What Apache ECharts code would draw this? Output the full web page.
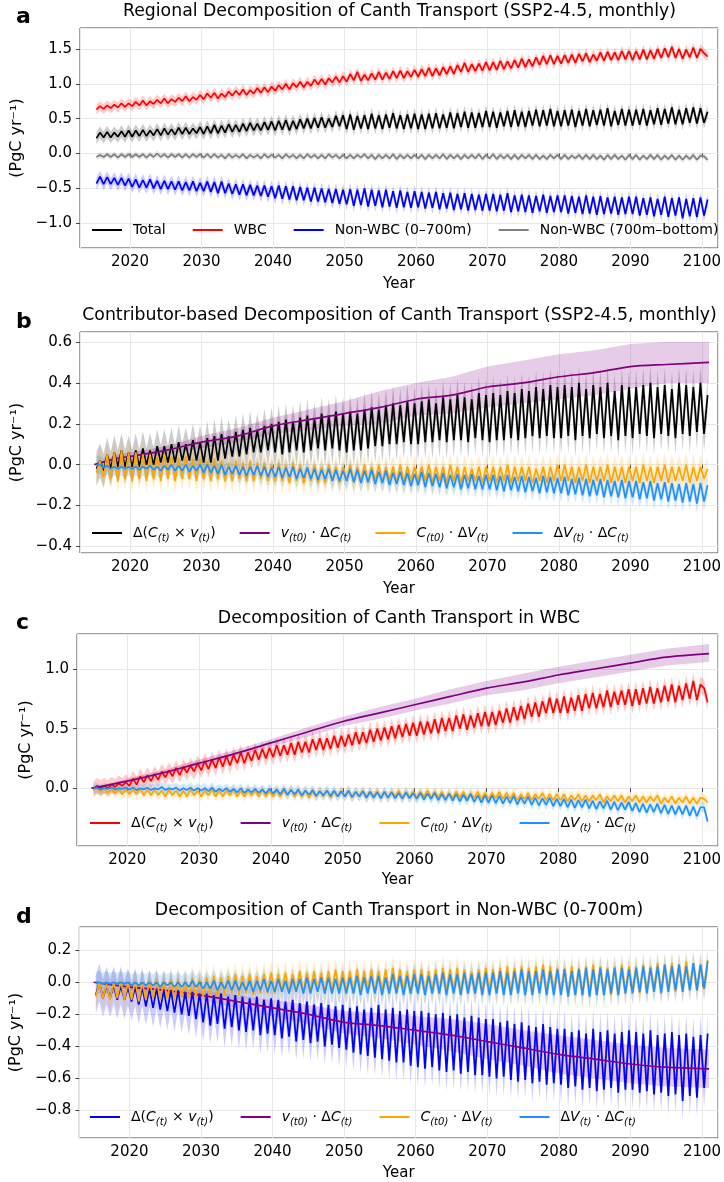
<!DOCTYPE html>
<html>
<head>
<meta charset="utf-8">
<script src="https://cdn.jsdelivr.net/npm/echarts@6/dist/echarts.min.js"></script>
<style>
  html, body { margin: 0; padding: 0; background: #fff; }
  #main { width: 724px; height: 1182px; }
</style>
</head>
<body>
<div id="main"></div>
<script>
// two readings per year (seasonal low, seasonal high), 2015 .. 2100
// panel a
var totalLo = [0.22,0.23,0.23,0.24,0.24,
  0.24,0.25,0.25,0.26,0.26,0.27,0.27,0.28,0.28,0.29,
  0.28,0.29,0.29,0.30,0.31,0.31,0.32,0.33,0.33,0.34,
  0.33,0.34,0.33,0.35,0.36,0.36,0.37,0.37,0.38,0.39,
  0.35,0.34,0.36,0.35,0.36,0.35,0.37,0.36,0.35,0.36,
  0.35,0.35,0.36,0.36,0.37,0.36,0.38,0.37,0.37,0.38,
  0.38,0.37,0.39,0.38,0.39,0.38,0.40,0.39,0.40,0.39,
  0.39,0.40,0.38,0.40,0.39,0.41,0.40,0.39,0.41,0.40,
  0.40,0.41,0.40,0.42,0.41,0.43,0.42,0.42,0.44,0.43,
  0.44];
var totalHi = [0.30,0.31,0.30,0.32,0.33,
  0.33,0.34,0.33,0.35,0.36,0.35,0.37,0.37,0.36,0.38,
  0.39,0.41,0.40,0.42,0.41,0.43,0.44,0.43,0.45,0.46,
  0.47,0.48,0.47,0.49,0.50,0.51,0.52,0.50,0.54,0.55,
  0.56,0.54,0.55,0.57,0.55,0.56,0.58,0.55,0.56,0.57,
  0.56,0.57,0.58,0.56,0.59,0.58,0.60,0.59,0.58,0.61,
  0.60,0.59,0.61,0.62,0.60,0.61,0.63,0.62,0.64,0.61,
  0.62,0.63,0.61,0.64,0.62,0.63,0.65,0.61,0.64,0.63,
  0.63,0.64,0.62,0.65,0.64,0.66,0.63,0.65,0.66,0.65,
  0.60];
var wbcLo = [0.63,0.64,0.65,0.66,0.67,
  0.68,0.69,0.69,0.71,0.72,0.72,0.74,0.75,0.75,0.77,
  0.78,0.80,0.79,0.81,0.83,0.84,0.84,0.86,0.87,0.88,
  0.90,0.92,0.92,0.95,0.95,0.97,0.99,0.99,1.02,1.02,
  1.03,1.05,1.04,1.05,1.06,1.06,1.07,1.08,1.08,1.10,
  1.10,1.11,1.11,1.12,1.14,1.14,1.17,1.17,1.18,1.19,
  1.19,1.20,1.21,1.22,1.23,1.24,1.25,1.27,1.28,1.28,
  1.29,1.30,1.30,1.32,1.31,1.33,1.33,1.34,1.34,1.35,
  1.34,1.35,1.35,1.36,1.37,1.38,1.37,1.36,1.38,1.37,
  1.44];
var wbcHi = [0.68,0.69,0.70,0.72,0.72,
  0.74,0.76,0.75,0.77,0.79,0.78,0.80,0.82,0.81,0.84,
  0.86,0.87,0.86,0.89,0.90,0.92,0.91,0.94,0.95,0.96,
  0.98,1.00,1.01,1.03,1.03,1.06,1.07,1.08,1.10,1.11,
  1.14,1.17,1.13,1.15,1.17,1.16,1.18,1.19,1.18,1.20,
  1.21,1.23,1.22,1.24,1.25,1.27,1.30,1.28,1.29,1.31,
  1.31,1.33,1.32,1.34,1.36,1.35,1.38,1.40,1.41,1.40,
  1.41,1.42,1.43,1.44,1.42,1.45,1.46,1.45,1.47,1.47,
  1.47,1.49,1.48,1.50,1.51,1.53,1.50,1.49,1.52,1.50,
  1.39];
var upperLo = [-0.43,-0.44,-0.44,-0.45,-0.46,
  -0.48,-0.49,-0.49,-0.50,-0.51,-0.51,-0.52,-0.53,-0.53,-0.54,
  -0.54,-0.55,-0.57,-0.57,-0.58,-0.59,-0.60,-0.60,-0.61,-0.62,
  -0.64,-0.65,-0.66,-0.67,-0.67,-0.69,-0.69,-0.70,-0.71,-0.72,
  -0.73,-0.75,-0.74,-0.76,-0.75,-0.77,-0.76,-0.78,-0.77,-0.78,
  -0.77,-0.79,-0.78,-0.80,-0.79,-0.81,-0.80,-0.82,-0.81,-0.82,
  -0.82,-0.83,-0.82,-0.84,-0.83,-0.84,-0.85,-0.83,-0.85,-0.84,
  -0.84,-0.86,-0.85,-0.87,-0.86,-0.88,-0.87,-0.86,-0.88,-0.87,
  -0.87,-0.89,-0.88,-0.90,-0.88,-0.91,-0.89,-0.93,-0.90,-0.91,
  -0.89];
var upperHi = [-0.33,-0.34,-0.35,-0.35,-0.36,
  -0.37,-0.38,-0.37,-0.39,-0.39,-0.40,-0.40,-0.41,-0.40,-0.42,
  -0.40,-0.41,-0.40,-0.43,-0.44,-0.44,-0.45,-0.46,-0.46,-0.47,
  -0.46,-0.47,-0.47,-0.48,-0.49,-0.49,-0.50,-0.51,-0.51,-0.52,
  -0.51,-0.52,-0.50,-0.52,-0.53,-0.52,-0.54,-0.53,-0.55,-0.54,
  -0.55,-0.56,-0.55,-0.57,-0.56,-0.58,-0.57,-0.58,-0.59,-0.58,
  -0.58,-0.59,-0.57,-0.60,-0.59,-0.60,-0.61,-0.59,-0.61,-0.60,
  -0.60,-0.61,-0.62,-0.60,-0.62,-0.61,-0.63,-0.62,-0.63,-0.62,
  -0.62,-0.64,-0.63,-0.65,-0.62,-0.64,-0.63,-0.65,-0.64,-0.63,
  -0.66];
var deepLo = [-0.05,-0.05,-0.05,-0.06,-0.05,
  -0.05,-0.05,-0.06,-0.05,-0.05,-0.06,-0.05,-0.06,-0.06,-0.05,
  -0.06,-0.06,-0.06,-0.07,-0.06,-0.06,-0.07,-0.06,-0.07,-0.06,
  -0.06,-0.07,-0.06,-0.07,-0.07,-0.06,-0.07,-0.07,-0.06,-0.07,
  -0.07,-0.07,-0.06,-0.07,-0.08,-0.07,-0.07,-0.08,-0.07,-0.07,
  -0.07,-0.08,-0.07,-0.07,-0.08,-0.07,-0.08,-0.07,-0.07,-0.08,
  -0.07,-0.08,-0.07,-0.08,-0.08,-0.07,-0.08,-0.08,-0.08,-0.07,
  -0.08,-0.08,-0.07,-0.08,-0.08,-0.08,-0.09,-0.08,-0.08,-0.09,
  -0.08,-0.09,-0.08,-0.08,-0.09,-0.08,-0.09,-0.09,-0.08,-0.09,
  -0.04];
var deepHi = [-0.02,-0.01,-0.01,-0.01,-0.01,
  -0.01,-0.01,-0.01,0.00,-0.01,-0.01,-0.01,-0.01,-0.01,-0.01,
  -0.01,-0.01,-0.02,-0.01,-0.02,-0.01,-0.02,-0.02,-0.01,-0.02,
  -0.02,-0.01,-0.02,-0.02,-0.01,-0.02,-0.02,-0.01,-0.02,-0.02,
  -0.02,-0.02,-0.01,-0.02,-0.02,-0.02,-0.01,-0.02,-0.02,-0.02,
  -0.02,-0.02,-0.02,-0.01,-0.02,-0.02,-0.02,-0.02,-0.01,-0.02,
  -0.01,-0.02,-0.02,-0.02,-0.02,-0.02,-0.02,-0.03,-0.02,-0.02,
  -0.02,-0.03,-0.02,-0.02,-0.02,-0.03,-0.02,-0.02,-0.03,-0.02,
  -0.02,-0.03,-0.02,-0.02,-0.03,-0.02,-0.03,-0.03,-0.02,-0.03,
  -0.09];

// panel b
var bDeltaLo = [-0.02,-0.03,-0.02,-0.01,-0.01,
  -0.01,-0.01,0.00,0.00,0.01,0.01,0.01,0.02,0.02,0.02,
  0.01,0.01,0.02,0.03,0.04,0.04,0.05,0.06,0.06,0.07,
  0.06,0.05,0.06,0.07,0.06,0.07,0.08,0.07,0.08,0.07,
  0.06,0.07,0.07,0.08,0.09,0.09,0.10,0.10,0.11,0.10,
  0.10,0.11,0.11,0.12,0.11,0.12,0.12,0.11,0.13,0.12,
  0.11,0.12,0.12,0.13,0.12,0.13,0.14,0.13,0.14,0.13,
  0.13,0.14,0.12,0.14,0.13,0.15,0.13,0.14,0.12,0.14,
  0.13,0.15,0.14,0.13,0.15,0.14,0.13,0.15,0.14,0.16,
  0.15];
var bDeltaHi = [0.02,0.05,0.06,0.07,0.06,
  0.07,0.08,0.07,0.09,0.09,0.10,0.11,0.10,0.12,0.11,
  0.13,0.14,0.15,0.14,0.16,0.17,0.18,0.17,0.19,0.20,
  0.21,0.22,0.21,0.23,0.24,0.22,0.25,0.24,0.26,0.25,
  0.26,0.25,0.27,0.28,0.27,0.29,0.30,0.29,0.31,0.30,
  0.31,0.32,0.30,0.33,0.32,0.34,0.33,0.32,0.35,0.34,
  0.35,0.34,0.36,0.35,0.37,0.36,0.38,0.37,0.39,0.38,
  0.39,0.38,0.40,0.37,0.39,0.38,0.40,0.36,0.39,0.38,
  0.38,0.39,0.40,0.38,0.39,0.37,0.40,0.39,0.38,0.40,
  0.34];
var bCvLo = [-0.04,-0.06,-0.07,-0.08,-0.07,
  -0.08,-0.07,-0.08,-0.07,-0.08,-0.07,-0.08,-0.07,-0.07,-0.08,
  -0.07,-0.08,-0.07,-0.08,-0.08,-0.07,-0.08,-0.08,-0.07,-0.08,
  -0.08,-0.08,-0.09,-0.08,-0.09,-0.08,-0.09,-0.09,-0.08,-0.09,
  -0.08,-0.09,-0.08,-0.09,-0.08,-0.09,-0.08,-0.09,-0.09,-0.08,
  -0.08,-0.08,-0.09,-0.08,-0.09,-0.08,-0.09,-0.08,-0.08,-0.09,
  -0.08,-0.09,-0.08,-0.09,-0.08,-0.08,-0.09,-0.08,-0.09,-0.08,
  -0.08,-0.08,-0.09,-0.08,-0.09,-0.08,-0.08,-0.09,-0.08,-0.09,
  -0.08,-0.09,-0.08,-0.09,-0.08,-0.09,-0.08,-0.08,-0.09,-0.08,
  -0.07];
var bCvHi = [0.02,0.05,0.06,0.07,0.06,
  0.06,0.05,0.05,0.04,0.05,0.04,0.03,0.04,0.03,0.03,
  0.02,0.03,0.02,0.01,0.02,0.01,0.02,0.01,0.01,0.00,
  0.01,0.00,0.01,0.00,-0.01,0.00,-0.01,0.00,-0.01,-0.01,
  0.00,-0.01,0.00,-0.01,0.00,-0.01,-0.01,0.00,-0.01,-0.01,
  -0.01,0.00,-0.01,-0.01,0.00,-0.01,-0.01,-0.02,-0.01,-0.01,
  -0.01,-0.01,0.00,-0.01,-0.01,-0.01,-0.02,-0.01,-0.01,0.00,
  0.00,-0.01,-0.01,0.00,-0.01,-0.01,0.00,-0.01,-0.01,-0.01,
  -0.01,0.00,-0.01,-0.01,0.00,-0.01,-0.01,0.00,-0.01,-0.01,
  -0.02];
var bVcLo = [0.00,-0.015,-0.02,-0.02,-0.02,
  -0.02,-0.025,-0.02,-0.025,-0.03,-0.025,-0.03,-0.03,-0.035,-0.03,
  -0.04,-0.04,-0.045,-0.05,-0.045,-0.05,-0.055,-0.05,-0.055,-0.06,
  -0.06,-0.065,-0.06,-0.07,-0.065,-0.07,-0.075,-0.07,-0.08,-0.08,
  -0.08,-0.085,-0.09,-0.085,-0.095,-0.09,-0.10,-0.095,-0.10,-0.105,
  -0.10,-0.11,-0.105,-0.11,-0.115,-0.11,-0.12,-0.115,-0.12,-0.12,
  -0.12,-0.125,-0.13,-0.125,-0.13,-0.135,-0.13,-0.14,-0.135,-0.14,
  -0.14,-0.15,-0.145,-0.15,-0.155,-0.15,-0.16,-0.155,-0.16,-0.165,
  -0.16,-0.17,-0.165,-0.175,-0.17,-0.18,-0.175,-0.185,-0.18,-0.19,
  -0.18];
var bVcHi = [0.00,-0.005,-0.01,-0.01,-0.01,
  -0.01,-0.01,-0.005,-0.01,-0.005,0.00,-0.005,0.00,-0.005,0.00,
  0.00,-0.005,0.00,-0.01,-0.005,-0.01,-0.01,-0.005,-0.01,-0.015,
  -0.01,-0.015,-0.01,-0.02,-0.015,-0.02,-0.025,-0.02,-0.025,-0.03,
  -0.02,-0.025,-0.03,-0.025,-0.035,-0.03,-0.04,-0.035,-0.04,-0.045,
  -0.035,-0.04,-0.045,-0.04,-0.05,-0.045,-0.05,-0.045,-0.055,-0.05,
  -0.05,-0.055,-0.05,-0.06,-0.055,-0.06,-0.065,-0.055,-0.06,-0.065,
  -0.06,-0.07,-0.065,-0.07,-0.075,-0.07,-0.075,-0.08,-0.075,-0.08,
  -0.08,-0.085,-0.08,-0.09,-0.085,-0.09,-0.095,-0.09,-0.095,-0.09,
  -0.10];
var bPurpleYears = [2015,2018,2020,2025,2030,2035,2040,2045,2050,2055,2060,2065,2070,2075,2080,2085,2090,2095,2101];
var bPurpleMid = [0.00,0.03,0.04,0.07,0.11,0.14,0.19,0.22,0.25,0.28,0.32,0.34,0.38,0.40,0.43,0.45,0.48,0.49,0.50];
var bPurpleUp  = [0.00,0.05,0.06,0.09,0.14,0.18,0.23,0.27,0.31,0.36,0.40,0.43,0.48,0.51,0.54,0.56,0.59,0.60,0.60];
var bPurpleDn  = [0.00,0.01,0.02,0.05,0.08,0.11,0.15,0.17,0.19,0.20,0.24,0.25,0.28,0.30,0.32,0.34,0.37,0.40,0.40];

// panel c
var cDeltaLo = [-0.01,0.00,0.00,0.01,0.02,
  0.02,0.03,0.05,0.06,0.07,0.09,0.10,0.11,0.13,0.14,
  0.15,0.16,0.17,0.18,0.19,0.21,0.21,0.23,0.24,0.25,
  0.26,0.27,0.28,0.28,0.30,0.30,0.32,0.32,0.33,0.34,
  0.35,0.36,0.37,0.38,0.39,0.40,0.41,0.42,0.43,0.44,
  0.44,0.45,0.46,0.46,0.48,0.48,0.50,0.49,0.51,0.52,
  0.52,0.53,0.55,0.55,0.57,0.58,0.60,0.60,0.63,0.63,
  0.63,0.63,0.65,0.65,0.67,0.67,0.68,0.68,0.70,0.70,
  0.69,0.70,0.71,0.71,0.72,0.73,0.72,0.74,0.75,0.74,
  0.84];
var cDeltaHi = [0.02,0.02,0.03,0.04,0.05,
  0.08,0.10,0.11,0.12,0.14,0.15,0.17,0.18,0.19,0.21,
  0.23,0.24,0.26,0.27,0.28,0.30,0.30,0.32,0.33,0.34,
  0.36,0.36,0.38,0.39,0.39,0.41,0.42,0.42,0.44,0.44,
  0.45,0.47,0.47,0.49,0.50,0.51,0.52,0.53,0.54,0.55,
  0.56,0.56,0.58,0.59,0.59,0.61,0.62,0.61,0.63,0.64,
  0.64,0.65,0.67,0.68,0.69,0.71,0.72,0.73,0.76,0.75,
  0.77,0.76,0.78,0.79,0.80,0.79,0.82,0.81,0.82,0.83,
  0.83,0.84,0.85,0.84,0.86,0.87,0.86,0.88,0.90,0.87,
  0.72];
var cCvLo = [-0.02,-0.03,-0.04,-0.04,-0.05,
  -0.05,-0.05,-0.06,-0.06,-0.06,-0.07,-0.06,-0.07,-0.07,-0.06,
  -0.07,-0.06,-0.07,-0.07,-0.06,-0.07,-0.07,-0.06,-0.07,-0.07,
  -0.07,-0.07,-0.06,-0.07,-0.07,-0.08,-0.07,-0.07,-0.08,-0.07,
  -0.07,-0.08,-0.07,-0.08,-0.07,-0.08,-0.08,-0.07,-0.08,-0.08,
  -0.08,-0.07,-0.08,-0.08,-0.09,-0.08,-0.08,-0.09,-0.08,-0.09,
  -0.09,-0.08,-0.09,-0.09,-0.10,-0.09,-0.10,-0.09,-0.10,-0.10,
  -0.10,-0.11,-0.10,-0.11,-0.11,-0.10,-0.12,-0.11,-0.11,-0.12,
  -0.11,-0.12,-0.12,-0.11,-0.13,-0.12,-0.13,-0.12,-0.13,-0.13,
  -0.09];
var cCvHi = [0.00,0.00,-0.01,-0.01,-0.01,
  -0.01,0.00,-0.01,-0.01,-0.02,-0.01,-0.02,-0.02,-0.01,-0.02,
  -0.02,-0.01,-0.02,-0.02,-0.01,-0.02,-0.02,-0.02,-0.01,-0.02,
  -0.02,-0.02,-0.01,-0.02,-0.02,-0.03,-0.02,-0.02,-0.03,-0.02,
  -0.02,-0.03,-0.02,-0.03,-0.02,-0.03,-0.03,-0.02,-0.03,-0.03,
  -0.03,-0.02,-0.03,-0.03,-0.04,-0.03,-0.03,-0.04,-0.03,-0.04,
  -0.04,-0.03,-0.04,-0.04,-0.05,-0.04,-0.05,-0.04,-0.05,-0.05,
  -0.05,-0.06,-0.05,-0.06,-0.06,-0.05,-0.07,-0.06,-0.06,-0.07,
  -0.06,-0.07,-0.07,-0.06,-0.08,-0.07,-0.08,-0.07,-0.08,-0.08,
  -0.12];
var cVcLo = [0.00,-0.01,-0.005,-0.01,-0.005,
  -0.01,-0.015,-0.01,-0.015,-0.01,-0.015,-0.01,-0.02,-0.015,-0.02,
  -0.02,-0.025,-0.03,-0.025,-0.03,-0.035,-0.04,-0.035,-0.04,-0.045,
  -0.045,-0.05,-0.055,-0.05,-0.06,-0.055,-0.065,-0.06,-0.065,-0.07,
  -0.07,-0.075,-0.07,-0.08,-0.08,-0.085,-0.08,-0.085,-0.09,-0.085,
  -0.09,-0.095,-0.09,-0.10,-0.10,-0.105,-0.11,-0.105,-0.115,-0.12,
  -0.12,-0.125,-0.13,-0.125,-0.135,-0.13,-0.14,-0.145,-0.14,-0.15,
  -0.15,-0.16,-0.165,-0.16,-0.17,-0.175,-0.17,-0.18,-0.185,-0.18,
  -0.19,-0.20,-0.205,-0.20,-0.21,-0.215,-0.22,-0.22,-0.23,-0.235,
  -0.16];
var cVcHi = [0.00,0.00,0.005,0.00,0.005,
  0.005,0.00,0.005,0.00,0.01,0.00,0.005,0.00,0.005,0.00,
  0.00,0.005,-0.005,0.00,-0.005,0.00,-0.01,-0.005,-0.01,-0.005,
  -0.01,-0.005,-0.015,-0.01,-0.02,-0.015,-0.025,-0.02,-0.02,-0.025,
  -0.02,-0.03,-0.025,-0.03,-0.035,-0.03,-0.035,-0.04,-0.035,-0.04,
  -0.04,-0.045,-0.04,-0.05,-0.045,-0.05,-0.055,-0.05,-0.06,-0.06,
  -0.06,-0.065,-0.07,-0.065,-0.075,-0.07,-0.08,-0.085,-0.08,-0.09,
  -0.09,-0.095,-0.10,-0.095,-0.105,-0.11,-0.105,-0.115,-0.12,-0.115,
  -0.125,-0.13,-0.135,-0.13,-0.14,-0.145,-0.15,-0.145,-0.155,-0.16,
  -0.28];
var cPurpleYears = [2015,2020,2025,2030,2035,2040,2045,2050,2055,2060,2065,2070,2075,2080,2085,2090,2095,2101];
var cPurpleMid = [0.00,0.06,0.13,0.21,0.29,0.38,0.47,0.56,0.63,0.70,0.77,0.84,0.89,0.95,1.00,1.05,1.10,1.13];
var cPurpleUp  = [0.00,0.08,0.15,0.24,0.32,0.41,0.51,0.60,0.68,0.75,0.83,0.90,0.96,1.02,1.07,1.12,1.17,1.21];
var cPurpleDn  = [0.00,0.04,0.11,0.18,0.26,0.35,0.43,0.52,0.58,0.65,0.71,0.78,0.82,0.88,0.93,0.98,1.03,1.06];

// panel d
var dDeltaLo = [-0.08,-0.10,-0.10,-0.11,-0.11,
  -0.12,-0.14,-0.15,-0.16,-0.17,-0.18,-0.19,-0.20,-0.21,-0.23,
  -0.25,-0.27,-0.26,-0.29,-0.28,-0.30,-0.31,-0.30,-0.33,-0.32,
  -0.33,-0.35,-0.34,-0.37,-0.36,-0.38,-0.37,-0.40,-0.39,-0.41,
  -0.42,-0.44,-0.45,-0.46,-0.47,-0.48,-0.49,-0.50,-0.50,-0.52,
  -0.53,-0.54,-0.53,-0.55,-0.56,-0.55,-0.57,-0.56,-0.58,-0.58,
  -0.59,-0.60,-0.59,-0.61,-0.62,-0.61,-0.63,-0.62,-0.64,-0.63,
  -0.64,-0.66,-0.65,-0.67,-0.66,-0.68,-0.67,-0.66,-0.69,-0.67,
  -0.67,-0.69,-0.68,-0.70,-0.69,-0.71,-0.70,-0.74,-0.71,-0.72,
  -0.66];
var dDeltaHi = [0.00,-0.02,-0.02,-0.02,-0.03,
  -0.03,-0.03,-0.04,-0.04,-0.05,-0.05,-0.05,-0.06,-0.06,-0.07,
  -0.07,-0.08,-0.07,-0.09,-0.08,-0.09,-0.10,-0.09,-0.11,-0.10,
  -0.11,-0.12,-0.11,-0.13,-0.12,-0.14,-0.13,-0.14,-0.15,-0.14,
  -0.16,-0.15,-0.17,-0.16,-0.14,-0.17,-0.16,-0.18,-0.17,-0.18,
  -0.18,-0.19,-0.20,-0.19,-0.21,-0.20,-0.22,-0.21,-0.22,-0.23,
  -0.23,-0.25,-0.24,-0.26,-0.25,-0.27,-0.28,-0.26,-0.28,-0.29,
  -0.29,-0.31,-0.30,-0.32,-0.29,-0.31,-0.30,-0.32,-0.31,-0.30,
  -0.31,-0.32,-0.30,-0.33,-0.32,-0.31,-0.33,-0.32,-0.34,-0.33,
  -0.32];
var dCvLo = [-0.09,-0.10,-0.11,-0.10,-0.11,
  -0.11,-0.12,-0.11,-0.10,-0.11,-0.10,-0.11,-0.09,-0.10,-0.09,
  -0.09,-0.08,-0.09,-0.08,-0.07,-0.08,-0.07,-0.08,-0.07,-0.07,
  -0.07,-0.06,-0.07,-0.06,-0.07,-0.06,-0.06,-0.07,-0.06,-0.06,
  -0.06,-0.07,-0.06,-0.06,-0.07,-0.06,-0.07,-0.06,-0.06,-0.07,
  -0.06,-0.07,-0.06,-0.07,-0.06,-0.06,-0.07,-0.06,-0.07,-0.06,
  -0.06,-0.07,-0.06,-0.07,-0.06,-0.07,-0.06,-0.06,-0.07,-0.06,
  -0.07,-0.08,-0.07,-0.08,-0.07,-0.08,-0.07,-0.08,-0.08,-0.07,
  -0.06,-0.07,-0.06,-0.05,-0.06,-0.05,-0.06,-0.05,-0.04,-0.05,
  -0.04];
var dCvHi = [0.00,-0.01,0.00,0.01,0.00,
  0.01,0.00,0.01,0.02,0.01,0.02,0.02,0.01,0.03,0.02,
  0.03,0.04,0.03,0.04,0.05,0.04,0.05,0.04,0.05,0.06,
  0.05,0.06,0.05,0.07,0.06,0.07,0.06,0.07,0.08,0.07,
  0.07,0.08,0.07,0.08,0.07,0.08,0.09,0.08,0.07,0.08,
  0.08,0.07,0.08,0.09,0.08,0.09,0.08,0.07,0.08,0.09,
  0.08,0.09,0.10,0.09,0.10,0.09,0.10,0.11,0.10,0.09,
  0.09,0.10,0.09,0.10,0.11,0.10,0.09,0.10,0.11,0.10,
  0.10,0.11,0.10,0.12,0.11,0.12,0.11,0.13,0.12,0.11,
  0.14];
var dVcLo = [0.00,-0.01,-0.01,-0.01,-0.01,
  -0.02,-0.02,-0.02,-0.02,-0.03,-0.02,-0.03,-0.03,-0.03,-0.03,
  -0.04,-0.04,-0.05,-0.04,-0.05,-0.05,-0.05,-0.06,-0.05,-0.06,
  -0.06,-0.06,-0.07,-0.06,-0.07,-0.07,-0.06,-0.07,-0.07,-0.07,
  -0.07,-0.07,-0.08,-0.07,-0.07,-0.08,-0.07,-0.07,-0.08,-0.07,
  -0.07,-0.08,-0.07,-0.07,-0.08,-0.07,-0.08,-0.07,-0.07,-0.08,
  -0.08,-0.07,-0.08,-0.08,-0.07,-0.08,-0.08,-0.07,-0.08,-0.08,
  -0.08,-0.09,-0.08,-0.08,-0.09,-0.08,-0.08,-0.07,-0.08,-0.07,
  -0.07,-0.06,-0.07,-0.06,-0.07,-0.06,-0.05,-0.06,-0.05,-0.05,
  -0.04];
var dVcHi = [0.00,0.00,0.00,0.00,0.00,
  0.00,0.00,0.00,0.00,0.00,0.00,0.00,0.00,0.01,0.00,
  0.00,0.01,0.00,0.01,0.01,0.00,0.01,0.01,0.02,0.01,
  0.02,0.01,0.02,0.02,0.03,0.02,0.03,0.03,0.02,0.03,
  0.03,0.04,0.03,0.04,0.04,0.03,0.05,0.04,0.04,0.05,
  0.05,0.04,0.05,0.06,0.05,0.05,0.06,0.05,0.06,0.06,
  0.06,0.07,0.06,0.07,0.08,0.07,0.07,0.08,0.07,0.08,
  0.08,0.07,0.08,0.09,0.08,0.09,0.08,0.09,0.09,0.08,
  0.09,0.10,0.09,0.10,0.11,0.10,0.11,0.10,0.12,0.11,
  0.13];
var dPurpleYears = [2015,2020,2025,2030,2035,2040,2045,2050,2055,2060,2065,2070,2075,2080,2085,2090,2095,2101];
var dPurpleMid = [0.00,-0.03,-0.05,-0.08,-0.12,-0.16,-0.20,-0.25,-0.27,-0.30,-0.33,-0.37,-0.41,-0.45,-0.48,-0.51,-0.53,-0.54];
var dPurpleUp  = [0.00,-0.01,-0.03,-0.05,-0.08,-0.11,-0.14,-0.18,-0.19,-0.21,-0.23,-0.26,-0.30,-0.33,-0.36,-0.39,-0.41,-0.42];
var dPurpleDn  = [0.00,-0.05,-0.08,-0.11,-0.16,-0.21,-0.26,-0.32,-0.35,-0.39,-0.43,-0.48,-0.52,-0.57,-0.60,-0.63,-0.65,-0.66];

var FONT = '"DejaVu Sans", sans-serif';
var chart = echarts.init(document.getElementById('main'));

var years = [];
for (var yr = 2015; yr <= 2100; yr++) years.push(yr);

function seasonal(lo, hi) {
  var pts = [];
  years.forEach(function (y, i) {
    pts.push([y + 0.3, lo[i]]);
    pts.push([y + 0.8, hi[i]]);
  });
  return pts;
}
function pairs(xs, ys) {
  return xs.map(function (x, i) { return [x, ys[i]]; });
}
function rgba(hex, a) {
  var n = parseInt(hex.slice(1), 16);
  return 'rgba(' + (n >> 16) + ',' + ((n >> 8) & 255) + ',' + (n & 255) + ',' + a + ')';
}
function clipRect(params) {
  var c = params.coordSys;
  return { type: 'rect', shape: { x: c.x, y: c.y, width: c.width, height: c.height } };
}

var series = [];
// spread band: a fixed pixel half-height drawn around the monthly line
function addOsc(id, g, lo, hi, color, halfPx) {
  var d = seasonal(lo, hi);
  series.push({
    type: 'custom', xAxisIndex: g, yAxisIndex: g, data: [d[0]], silent: true, clip: true,
    renderItem: function (params, api) {
      var px = d.map(function (p) { return api.coord(p); });
      var top = px.map(function (p) { return [p[0], p[1] - halfPx]; });
      var bot = px.map(function (p) { return [p[0], p[1] + halfPx]; }).reverse();
      return {
        type: 'polygon', clipPath: clipRect(params),
        shape: { points: top.concat(bot) },
        style: { fill: rgba(color, 0.2) }
      };
    }
  });
  series.push({
    name: id, type: 'line', xAxisIndex: g, yAxisIndex: g, data: d, symbol: 'none', silent: true,
    itemStyle: { color: color }, lineStyle: { color: color, width: 1.7 }
  });
}
function addSmooth(id, g, xs, mid, up, dn, color) {
  var poly = pairs(xs, up).concat(pairs(xs, dn).reverse());
  series.push({
    type: 'custom', xAxisIndex: g, yAxisIndex: g, data: [[xs[0], mid[0]]], silent: true, clip: true,
    renderItem: function (params, api) {
      return {
        type: 'polygon', clipPath: clipRect(params),
        shape: { points: poly.map(function (p) { return api.coord(p); }) },
        style: { fill: rgba(color, 0.2) }
      };
    }
  });
  series.push({
    name: id, type: 'line', xAxisIndex: g, yAxisIndex: g, data: pairs(xs, mid), symbol: 'none',
    smooth: 0.3, silent: true, itemStyle: { color: color }, lineStyle: { color: color, width: 1.7 }
  });
}

var PURPLE = '#800080';
addOsc('a0', 0, totalLo, totalHi, '#000000', 6);
addOsc('a1', 0, wbcLo, wbcHi, '#ff0000', 5);
addOsc('a2', 0, upperLo, upperHi, '#0000ff', 6);
addOsc('a3', 0, deepLo, deepHi, '#808080', 3);

addOsc('b0', 1, bDeltaLo, bDeltaHi, '#000000', 17);
addSmooth('b1', 1, bPurpleYears, bPurpleMid, bPurpleUp, bPurpleDn, PURPLE);
addOsc('b2', 1, bCvLo, bCvHi, '#ffa500', 12);
addOsc('b3', 1, bVcLo, bVcHi, '#1e90ff', 9);

addOsc('c0', 2, cDeltaLo, cDeltaHi, '#ff0000', 8);
addSmooth('c1', 2, cPurpleYears, cPurpleMid, cPurpleUp, cPurpleDn, PURPLE);
addOsc('c2', 2, cCvLo, cCvHi, '#ffa500', 5);
addOsc('c3', 2, cVcLo, cVcHi, '#1e90ff', 5);

addOsc('d0', 3, dDeltaLo, dDeltaHi, '#0000ff', 19);
addSmooth('d1', 3, dPurpleYears, dPurpleMid, dPurpleUp, dPurpleDn, PURPLE);
addOsc('d2', 3, dCvLo, dCvHi, '#ffa500', 12);
addOsc('d3', 3, dVcLo, dVcHi, '#1e90ff', 11);

var LABELS = {
  a0: 'Total', a1: 'WBC', a2: 'Non-WBC (0–700m)', a3: 'Non-WBC (700m–bottom)',
  x0: '{n|Δ(}{i|C}{s|(t)}{n| × }{i|v}{s|(t)}{n|)}',
  x1: '{i|v}{s|(t0)}{n| · Δ}{i|C}{s|(t)}',
  x2: '{i|C}{s|(t0)}{n| · Δ}{i|V}{s|(t)}',
  x3: '{n|Δ}{i|V}{s|(t)}{n| · Δ}{i|C}{s|(t)}'
};
var RICH = {
  n: { fontFamily: FONT, fontSize: 14, color: '#000', lineHeight: 20 },
  i: { fontFamily: FONT, fontSize: 14, fontStyle: 'italic', color: '#000', lineHeight: 20 },
  s: { fontFamily: FONT, fontSize: 10, fontStyle: 'italic', color: '#000', lineHeight: 11, verticalAlign: 'bottom' }
};

function legend(p, left, top, gap) {
  return {
    data: [p + '0', p + '1', p + '2', p + '3'],
    left: left, top: top, padding: 0, itemGap: gap,
    icon: 'rect', itemWidth: 30, itemHeight: 2, selectedMode: false,
    formatter: function (name) {
      return p === 'a' ? LABELS[name] : LABELS['x' + name.charAt(1)];
    },
    textStyle: { fontFamily: FONT, fontSize: 14, color: '#000', padding: [0, 0, 0, 6], rich: RICH }
  };
}

var grids = [
  { left: 80, top: 28, width: 639, height: 220 },
  { left: 80, top: 332, width: 639, height: 221 },
  { left: 77, top: 634, width: 644, height: 212 },
  { left: 77, top: 927, width: 644, height: 211 }
];
var yRanges = [[-1.355, 1.80, 6], [-0.432, 0.649, 5], [-0.485, 1.294, 4], [-0.972, 0.345, 6]];
var yNameGaps = [49, 49, 35, 47];
var xNameGaps = [29, 29, 27, 28];

function fmtY(v) {
  if (Math.abs(v) < 1e-9) return '0.0';
  return (v < 0 ? '−' : '') + Math.abs(v).toFixed(1);
}

var xAxes = grids.map(function (g, i) {
  return {
    type: 'value', gridIndex: i, min: 2013.0, max: 2102.25, splitNumber: 9,
    name: 'Year', nameLocation: 'middle', nameGap: xNameGaps[i],
    nameTextStyle: { fontFamily: FONT, fontSize: 15, color: '#000' },
    axisLine: { show: false },
    axisTick: { show: true, length: 4, lineStyle: { color: '#444' } },
    axisLabel: {
      fontFamily: FONT, fontSize: 15, color: '#000', margin: 7,
      showMinLabel: false, showMaxLabel: false,
      formatter: function (v) { return String(Math.round(v)); }
    },
    splitLine: { show: true, lineStyle: { color: '#e8e8e8', width: 1 } }
  };
});
var yAxes = grids.map(function (g, i) {
  return {
    type: 'value', gridIndex: i, min: yRanges[i][0], max: yRanges[i][1], splitNumber: yRanges[i][2],
    name: '(PgC yr⁻¹)', nameLocation: 'middle', nameGap: yNameGaps[i],
    nameTextStyle: { fontFamily: FONT, fontSize: 16, color: '#000' },
    axisLine: { show: false },
    axisTick: { show: true, length: 4, lineStyle: { color: '#444' } },
    axisLabel: {
      fontFamily: FONT, fontSize: 15, color: '#000', margin: 8,
      showMinLabel: false, showMaxLabel: false, formatter: fmtY
    },
    splitLine: { show: true, lineStyle: { color: '#e8e8e8', width: 1 } }
  };
});

function txt(x, y, s, font, align) {
  return {
    type: 'text', x: x, y: y, silent: true,
    style: { text: s, font: font, fill: '#000', align: align, verticalAlign: 'middle' }
  };
}
var TITLE_FONT = '17.3px "DejaVu Sans"';
var LETTER_FONT = 'bold 22px "DejaVu Sans"';

chart.setOption({
  animation: false,
  backgroundColor: '#fff',
  grid: grids.map(function (g) {
    return Object.assign({ show: true, borderColor: '#444', borderWidth: 1, backgroundColor: 'transparent' }, g);
  }),
  xAxis: xAxes,
  yAxis: yAxes,
  legend: [
    legend('a', 92, 223, 27),
    legend('b', 92, 526, 24),
    legend('c', 90, 816, 27),
    legend('d', 90, 1110, 27)
  ],
  graphic: [
    txt(16, 17.5, 'a', LETTER_FONT, 'left'),
    txt(16, 322.5, 'b', LETTER_FONT, 'left'),
    txt(16, 623.5, 'c', LETTER_FONT, 'left'),
    txt(16, 917.5, 'd', LETTER_FONT, 'left'),
    txt(399.5, 11.5, 'Regional Decomposition of Canth Transport (SSP2-4.5, monthly)', TITLE_FONT, 'center'),
    txt(399.5, 316, 'Contributor-based Decomposition of Canth Transport (SSP2-4.5, monthly)', TITLE_FONT, 'center'),
    txt(399, 619, 'Decomposition of Canth Transport in WBC', TITLE_FONT, 'center'),
    txt(399, 911, 'Decomposition of Canth Transport in Non-WBC (0-700m)', TITLE_FONT, 'center')
  ],
  series: series
});
</script>
</body>
</html>
